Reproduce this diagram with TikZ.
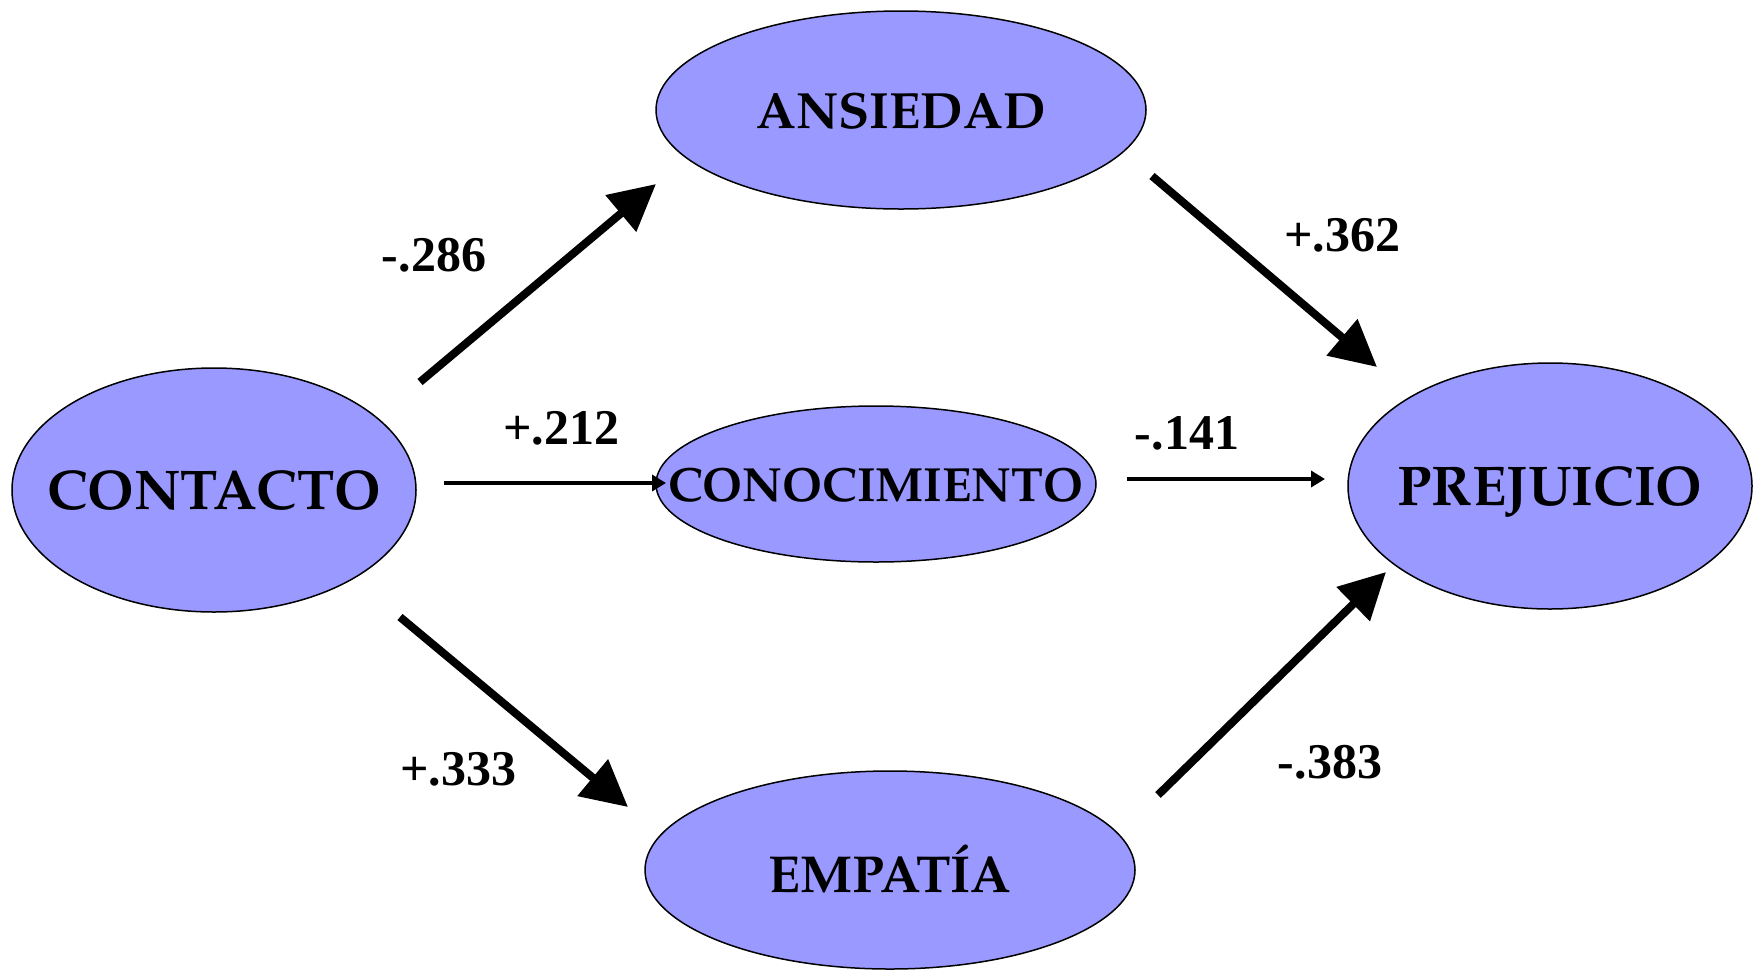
\documentclass[tikz,border=0pt]{standalone}
\usepackage[T1]{fontenc}
\usepackage{fontspec}
\newfontfamily\tms{Liberation Serif}
\usetikzlibrary{shapes.geometric,arrows.meta}
\definecolor{nodefill}{RGB}{153,153,255}
\newcommand{\palb}{\fontencoding{T1}\fontfamily{ppl}\fontseries{b}\selectfont}
\tikzset{
  var/.style={ellipse, draw=black, line width=1.5pt, fill=nodefill, inner sep=0pt},
  vartext/.style={inner sep=0pt, text=black, anchor=base},
  bigarrow/.style={line width=8pt, -{Triangle[length=46pt,width=46pt]}},
  thinarrow/.style={line width=4pt, -{Triangle[length=14pt,width=16pt]}},
  coef/.style={font=\tms\bfseries\fontsize{50}{60}\selectfont, inner sep=0pt}
}
\begin{document}
\begin{tikzpicture}[x=1pt,y=-1pt]
\useasboundingbox (0,0) rectangle (1753,970);
% nodes
\node[var, minimum width=490pt, minimum height=198pt] (ans) at (901,110) {};
\node[vartext, font=\palb\fontsize{51}{60}\selectfont] (ans-t) at ([yshift=-18pt]ans.center) {ANSIEDAD};
\node[var, minimum width=404pt, minimum height=244pt] (con) at (214,490) {};
\node[vartext, font=\palb\fontsize{56}{66}\selectfont] (con-t) at ([yshift=-19pt]con.center) {CONTACTO};
\node[var, minimum width=440pt, minimum height=156pt] (cono) at (876,484) {};
\node[vartext, font=\palb\fontsize{48}{58}\selectfont] (cono-t) at ([yshift=-17pt]cono.center) {CONOCIMIENTO};
\node[var, minimum width=404pt, minimum height=246pt] (pre) at (1550,486) {};
\node[vartext, font=\palb\fontsize{56}{66}\selectfont] (pre-t) at ([yshift=-19pt]pre.center) {PREJUICIO};
\node[var, minimum width=490pt, minimum height=198pt] (emp) at (890,870) {};
\node[vartext, font=\palb\fontsize{52}{62}\selectfont] (emp-t) at ([yshift=-22pt]emp.center) {EMPAT\'IA};
% arrow end points
\coordinate (a1s) at (420,382); \coordinate (a1e) at (656,184);
\coordinate (a2s) at (1152,176); \coordinate (a2e) at (1377,367);
\coordinate (a3s) at (444,483); \coordinate (a3e) at (666,483);
\coordinate (a4s) at (1127,479); \coordinate (a4e) at (1325,479);
\coordinate (a5s) at (400,617); \coordinate (a5e) at (628,807);
\coordinate (a6s) at (1158,795); \coordinate (a6e) at (1386,572);
\draw[bigarrow] (a1s) -- (a1e);
\draw[bigarrow] (a2s) -- (a2e);
\draw[thinarrow] (a3s) -- (a3e);
\draw[thinarrow] (a4s) -- (a4e);
\draw[bigarrow] (a5s) -- (a5e);
\draw[bigarrow] (a6s) -- (a6e);
% labels
\node[coef] (l1) at (434,255) {-.286};
\node[coef] (l2) at (561,428) {+.212};
\node[coef] (l3) at (1342,235) {+.362};
\node[coef] (l4) at (1187,433) {-.141};
\node[coef] (l5) at (458,769) {+.333};
\node[coef] (l6) at (1330,762) {-.383};
\end{tikzpicture}
\end{document}
